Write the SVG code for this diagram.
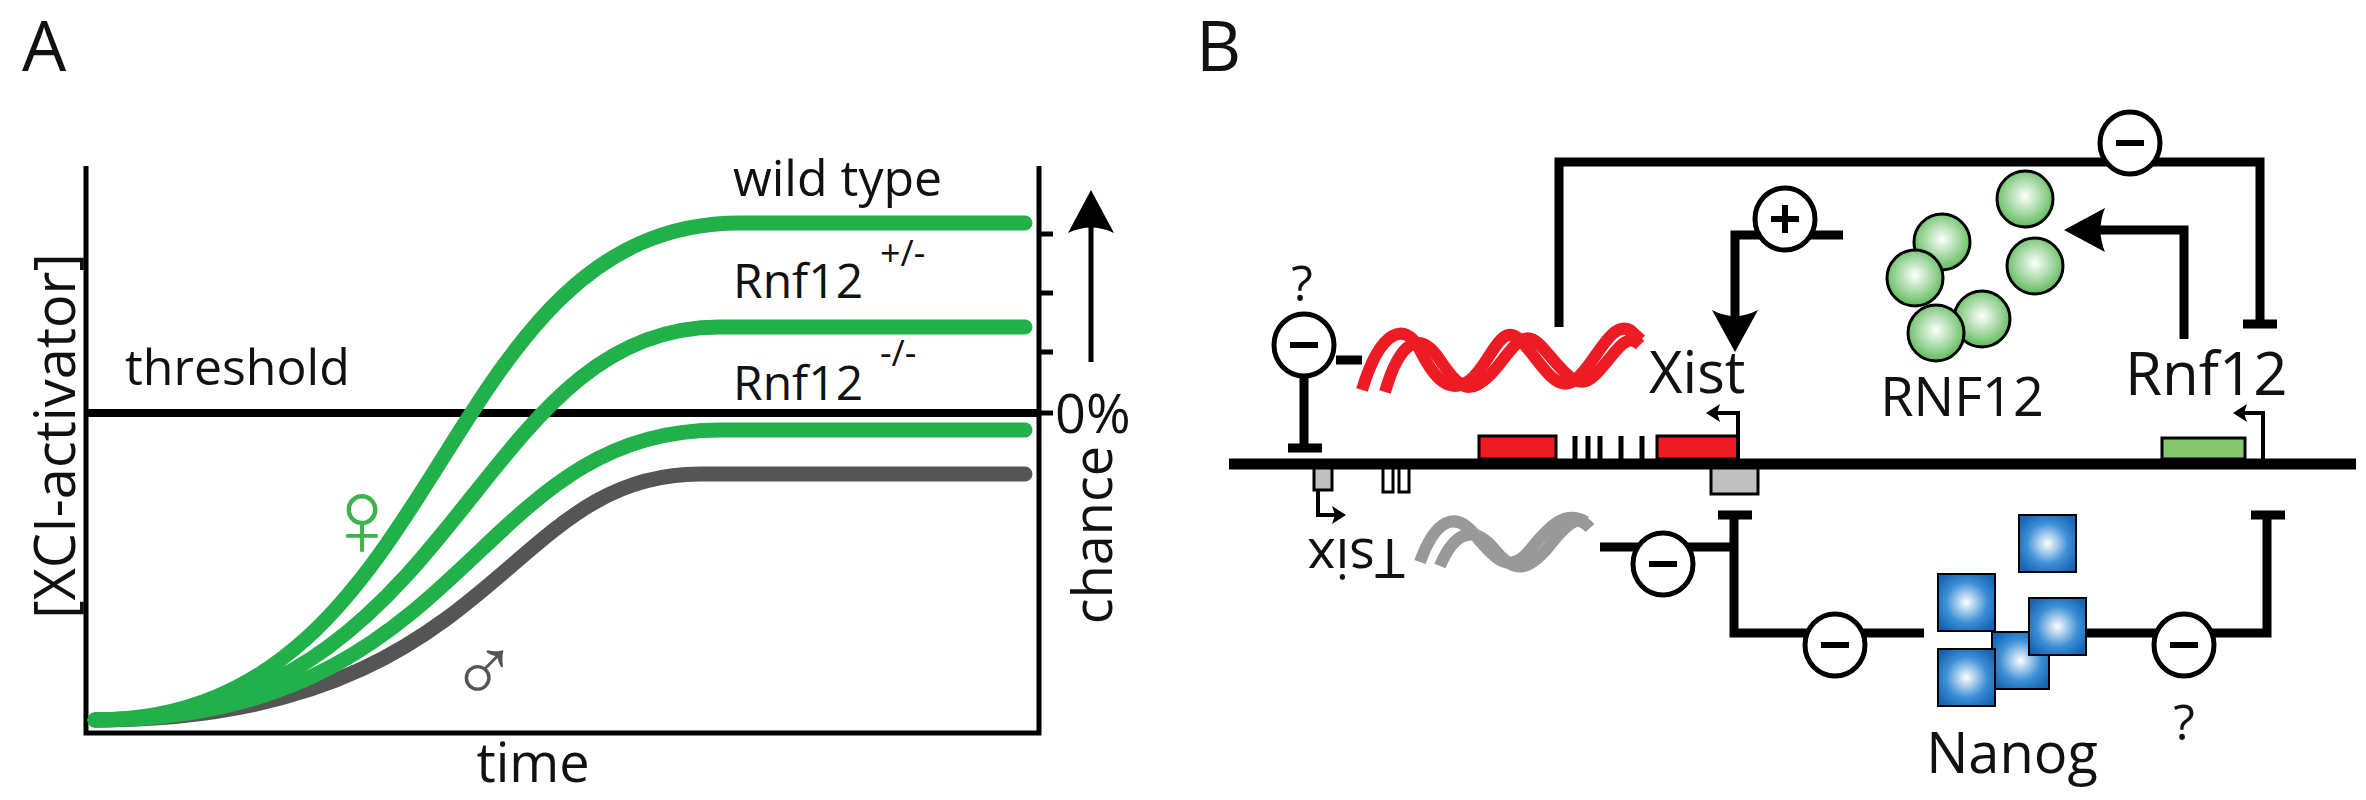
<svg xmlns="http://www.w3.org/2000/svg" width="2366" height="800" viewBox="0 0 2366 800">
<style>
text{font-family:"Open Sans","Liberation Sans",sans-serif;fill:#111}
.ax{stroke:#000;stroke-width:5;fill:none}
.g{stroke:#22b04b;stroke-width:15;fill:none;stroke-linecap:round}
.k{stroke:#000;stroke-width:9;fill:none}
.c{fill:#fff;stroke:#000;stroke-width:5}
.m{stroke:#000;stroke-width:6}
.sp{fill:url(#sg);stroke:#000;stroke-width:3}
.sq{fill:url(#bg);stroke:#000;stroke-width:2}
</style>
<defs>
<radialGradient id="sg" cx="0.5" cy="0.45" r="0.55"><stop offset="0" stop-color="#fff"/><stop offset="1" stop-color="#5dbb5a"/></radialGradient>
<radialGradient id="bg" cx="0.5" cy="0.5" r="0.6"><stop offset="0" stop-color="#fff"/><stop offset="0.6" stop-color="#3c8fd6"/><stop offset="1" stop-color="#1565b5"/></radialGradient>
<g id="minus"><ellipse class="c" rx="30" ry="31"/><line class="m" x1="-14" y1="0" x2="14" y2="0"/></g>
</defs>
<rect width="2366" height="800" fill="#fff"/>
<!-- Panel A -->
<g id="panelA">
<text x="22" y="71" font-size="70">A</text>
<path class="ax" d="M86,166 V733 H1039 V166"/>
<path class="ax" d="M1039,234 H1053 M1039,293 H1053 M1039,352 H1053 M1039,413 H1053"/>
<line x1="86" y1="413" x2="1039" y2="413" stroke="#000" stroke-width="8"/>
<path d="M95,720 C500,720 500,474 700,474 L1025,474" stroke="#555" stroke-width="15" fill="none" stroke-linecap="round"/>
<path class="g" d="M95,720 C470,720 470,430 720,430 L1025,430"/>
<path class="g" d="M95,720 C460,720 470,327 720,327 L1025,327"/>
<path class="g" d="M95,720 C450,720 430,223 740,223 L1025,223"/>
<line x1="1091" y1="362" x2="1091" y2="220" stroke="#000" stroke-width="5"/>
<path d="M1091,190 L1114,233 Q1091,222 1068,233 Z" fill="#000"/>
<text x="1055" y="433" font-size="54">0%</text>
<text transform="translate(1112,535) rotate(-90)" font-size="54" text-anchor="middle">chance</text>
<text transform="translate(75,436) rotate(-90)" font-size="56" text-anchor="middle">[XCI-activator]</text>
<text x="125" y="385" font-size="50">threshold</text>
<text x="733" y="196" font-size="50">wild type</text>
<text x="733" y="298" font-size="48">Rnf12</text>
<text x="880" y="266" font-size="36">+/-</text>
<text x="733" y="400" font-size="48">Rnf12</text>
<text x="880" y="366" font-size="36">-/-</text>
<text x="362" y="556" font-size="110" style="fill:#3cb44b" text-anchor="middle" font-family="DejaVu Sans">♀</text>
<text x="484" y="702" font-size="92" style="fill:#555" text-anchor="middle" font-family="DejaVu Sans">♂</text>
<text x="533" y="782" font-size="54" text-anchor="middle">time</text>
</g>
<!-- Panel B -->
<text x="1196" y="71" font-size="70">B</text>
<g id="connectors">
<path class="k" d="M1559,327 V162 H2260 V324"/>
<path class="k" d="M2243,324 H2277"/>
<use href="#minus" x="2130" y="143"/>
<path class="k" d="M1843,235 H1735 V320"/>
<path d="M1735,352 L1758,310 Q1735,322 1712,310 Z" fill="#000"/>
<g><ellipse class="c" cx="1785" cy="219" rx="30" ry="31"/><path class="m" d="M1771,219 H1799 M1785,205 V233"/></g>
<path class="k" d="M2184,339 V230 H2090"/>
<path d="M2064,230 L2105,208 Q2096,230 2105,252 Z" fill="#000"/>
<path class="k" d="M1336,360 H1362"/>
<path class="k" d="M1304,376 V448 M1288,448 H1322"/>
<use href="#minus" x="1304" y="345"/>
<text x="1302" y="301" font-size="50" text-anchor="middle">?</text>
<path class="k" d="M1718,515 H1752 M1734,515 V633 H1924 M1734,547 H1600"/>
<use href="#minus" x="1663" y="564"/>
<use href="#minus" x="1835" y="645"/>
<path class="k" d="M2251,515 H2285 M2267,515 V633 H2080"/>
<use href="#minus" x="2184" y="645"/>
<text x="2184" y="740" font-size="50" text-anchor="middle">?</text>
</g>
<g id="dna">
<line x1="1229" y1="464" x2="2356" y2="464" stroke="#000" stroke-width="11"/>
<rect x="1479" y="436" width="77" height="23" fill="#ed1c24" stroke="#000" stroke-width="3"/>
<rect x="1657" y="436" width="81" height="23" fill="#ed1c24" stroke="#000" stroke-width="3"/>
<path d="M1575,436 V460 M1588,436 V460 M1600,436 V460 M1621,436 V460 M1642,436 V460" stroke="#000" stroke-width="5"/>
<rect x="1711" y="468" width="47" height="26" fill="#c0c0c0" stroke="#000" stroke-width="3"/>
<rect x="1314" y="468" width="18" height="22" fill="#c0c0c0" stroke="#000" stroke-width="3"/>
<rect x="1383" y="468" width="10" height="24" fill="#fff" stroke="#000" stroke-width="3"/>
<rect x="1399" y="468" width="10" height="24" fill="#fff" stroke="#000" stroke-width="3"/>
<rect x="2162" y="438" width="83" height="21" fill="#84c76c" stroke="#000" stroke-width="3"/>
<path d="M1738,459 V413 H1716" stroke="#000" stroke-width="4" fill="none"/>
<path d="M1706,413 L1720,404 L1717,413 L1720,422 Z" fill="#000"/>
<path d="M2263,459 V413 H2243" stroke="#000" stroke-width="4" fill="none"/>
<path d="M2233,413 L2247,404 L2244,413 L2247,422 Z" fill="#000"/>
<path d="M1318,490 V515 H1336" stroke="#000" stroke-width="4" fill="none"/>
<path d="M1346,515 L1332,506 L1335,515 L1332,524 Z" fill="#000"/>
</g>
<g id="xist">
<path d="M1362,390 C1380,330 1405,320 1420,350 S1450,395 1470,380 S1500,320 1520,340 S1555,395 1575,380 S1610,320 1630,330 L1641,340" stroke="#ed1c24" stroke-width="12" fill="none"/>
<path d="M1385,392 C1400,340 1420,330 1440,360 S1470,395 1490,375 S1520,325 1540,345 S1575,395 1595,375 S1625,330 1640,345" stroke="#ed1c24" stroke-width="12" fill="none"/>
<text x="1649" y="393" font-size="58">Xist</text>
</g>
<g id="tsix">
<path d="M1420,562 C1435,520 1455,510 1475,535 S1510,575 1530,550 S1565,510 1586,522" stroke="#999" stroke-width="12" fill="none"/>
<path d="M1440,566 C1455,530 1475,525 1495,550 S1530,570 1550,545 S1578,515 1590,528" stroke="#999" stroke-width="12" fill="none"/>
<text transform="translate(1356,553) rotate(180)" font-size="54" text-anchor="middle" dominant-baseline="middle">Tsix</text>
</g>
<g id="rnf12-protein">
<circle class="sp" cx="1942" cy="242" r="28"/>
<circle class="sp" cx="1915" cy="278" r="28"/>
<circle class="sp" cx="1982" cy="319" r="28"/>
<circle class="sp" cx="1936" cy="333" r="28"/>
<circle class="sp" cx="2025" cy="199" r="28"/>
<circle class="sp" cx="2035" cy="266" r="28"/>
<text x="1962" y="416" font-size="54" text-anchor="middle">RNF12</text>
</g>
<g id="rnf12-gene"><text x="2125" y="395" font-size="60">Rnf12</text></g>
<g id="nanog">
<rect class="sq" x="2019" y="515" width="57" height="57"/>
<rect class="sq" x="1938" y="574" width="57" height="57"/>
<rect class="sq" x="1992" y="632" width="57" height="57"/>
<rect class="sq" x="2029" y="598" width="57" height="57"/>
<rect class="sq" x="1938" y="649" width="57" height="57"/>
<text x="2012" y="773" font-size="56" text-anchor="middle">Nanog</text>
</g>
</svg>
